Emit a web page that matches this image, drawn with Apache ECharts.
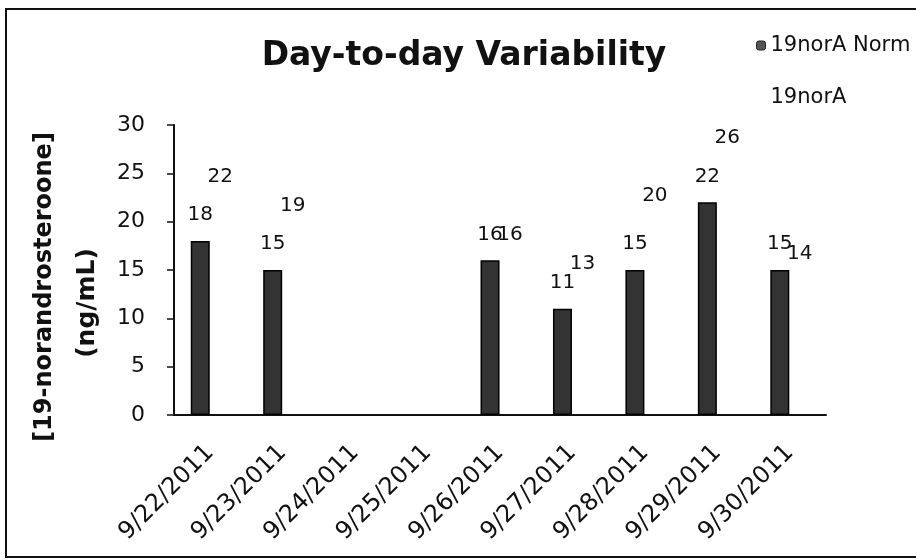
<!DOCTYPE html>
<html>
<head>
<meta charset="utf-8">
<script src="https://cdn.jsdelivr.net/npm/echarts@6/dist/echarts.min.js"></script>
<style>html,body{margin:0;padding:0;background:#fff;}#c{width:916px;height:560px;}</style>
</head>
<body>
<div id="c"></div>
<script>
const categories = ['9/22/2011','9/23/2011','9/24/2011','9/25/2011','9/26/2011','9/27/2011','9/28/2011','9/29/2011','9/30/2011'];
const normValues = [18, 15, null, null, 16, 11, 15, 22, 15];
const rawValues = [22, 19, null, null, 16, 13, 20, 26, 14];
const yTicks = {min: 0, max: 30, interval: 5};

const FONT = '"DejaVu Sans", sans-serif';
const chart = echarts.init(document.getElementById('c'), null, {renderer: 'canvas'});
chart.setOption({
  animation: false,
  backgroundColor: '#fff',
  title: {
    text: 'Day-to-day Variability',
    left: 464, top: 40, textAlign: 'center', padding: 0,
    textStyle: {fontFamily: FONT, fontSize: 33, fontWeight: 'bold', color: '#111'}
  },
  legend: {
    orient: 'vertical', left: 756, top: 35, itemGap: 31, padding: 0,
    itemWidth: 9, itemHeight: 9,
    textStyle: {fontFamily: FONT, fontSize: 21, color: '#111'},
    data: [
      {name: '19norA Norm', itemStyle: {color: '#555', borderColor: '#222', borderWidth: 1}},
      {name: '19norA', itemStyle: {color: 'rgba(255,255,255,0)', borderWidth: 0}}
    ]
  },
  grid: {left: 174, right: 90, top: 125, bottom: 145},
  xAxis: {
    type: 'category', data: categories,
    axisLine: {show: true, lineStyle: {color: '#111', width: 2}},
    axisTick: {show: false},
    axisLabel: {rotate: 45, fontFamily: FONT, fontSize: 24, color: '#111', margin: 34, interval: 0}
  },
  yAxis: {
    type: 'value', min: yTicks.min, max: yTicks.max, interval: yTicks.interval,
    axisLine: {show: true, lineStyle: {color: '#111', width: 2}},
    axisTick: {show: true, length: 7, lineStyle: {color: '#111', width: 1.5}},
    splitLine: {show: false},
    axisLabel: {fontFamily: FONT, fontSize: 22, color: '#111', margin: 29}
  },
  graphic: [
    {type: 'rect', shape: {x: 6, y: 9, width: 920, height: 548}, style: {fill: 'none', stroke: '#111', lineWidth: 2}, silent: true},
    {type: 'text', x: 45, y: 287, rotation: Math.PI / 2, silent: true,
     style: {text: '[19-norandrosteroone]', font: 'bold 24px ' + FONT, fill: '#111', textAlign: 'center', textVerticalAlign: 'middle'}},
    {type: 'text', x: 87, y: 303, rotation: Math.PI / 2, silent: true,
     style: {text: '(ng/mL)', font: 'bold 25px ' + FONT, fill: '#111', textAlign: 'center', textVerticalAlign: 'middle'}}
  ],
  series: [
    {
      name: '19norA Norm', type: 'bar', data: normValues,
      barWidth: 19, barGap: '5%',
      itemStyle: {color: '#333', borderColor: '#000', borderWidth: 1.5},
      label: {show: true, position: 'top', distance: 16, fontFamily: FONT, fontSize: 20, color: '#111'}
    },
    {
      name: '19norA', type: 'bar', data: rawValues,
      barWidth: 19,
      itemStyle: {color: 'rgba(255,255,255,0)'},
      label: {show: true, position: 'top', distance: 16, fontFamily: FONT, fontSize: 20, color: '#111'}
    }
  ]
});
</script>
</body>
</html>
